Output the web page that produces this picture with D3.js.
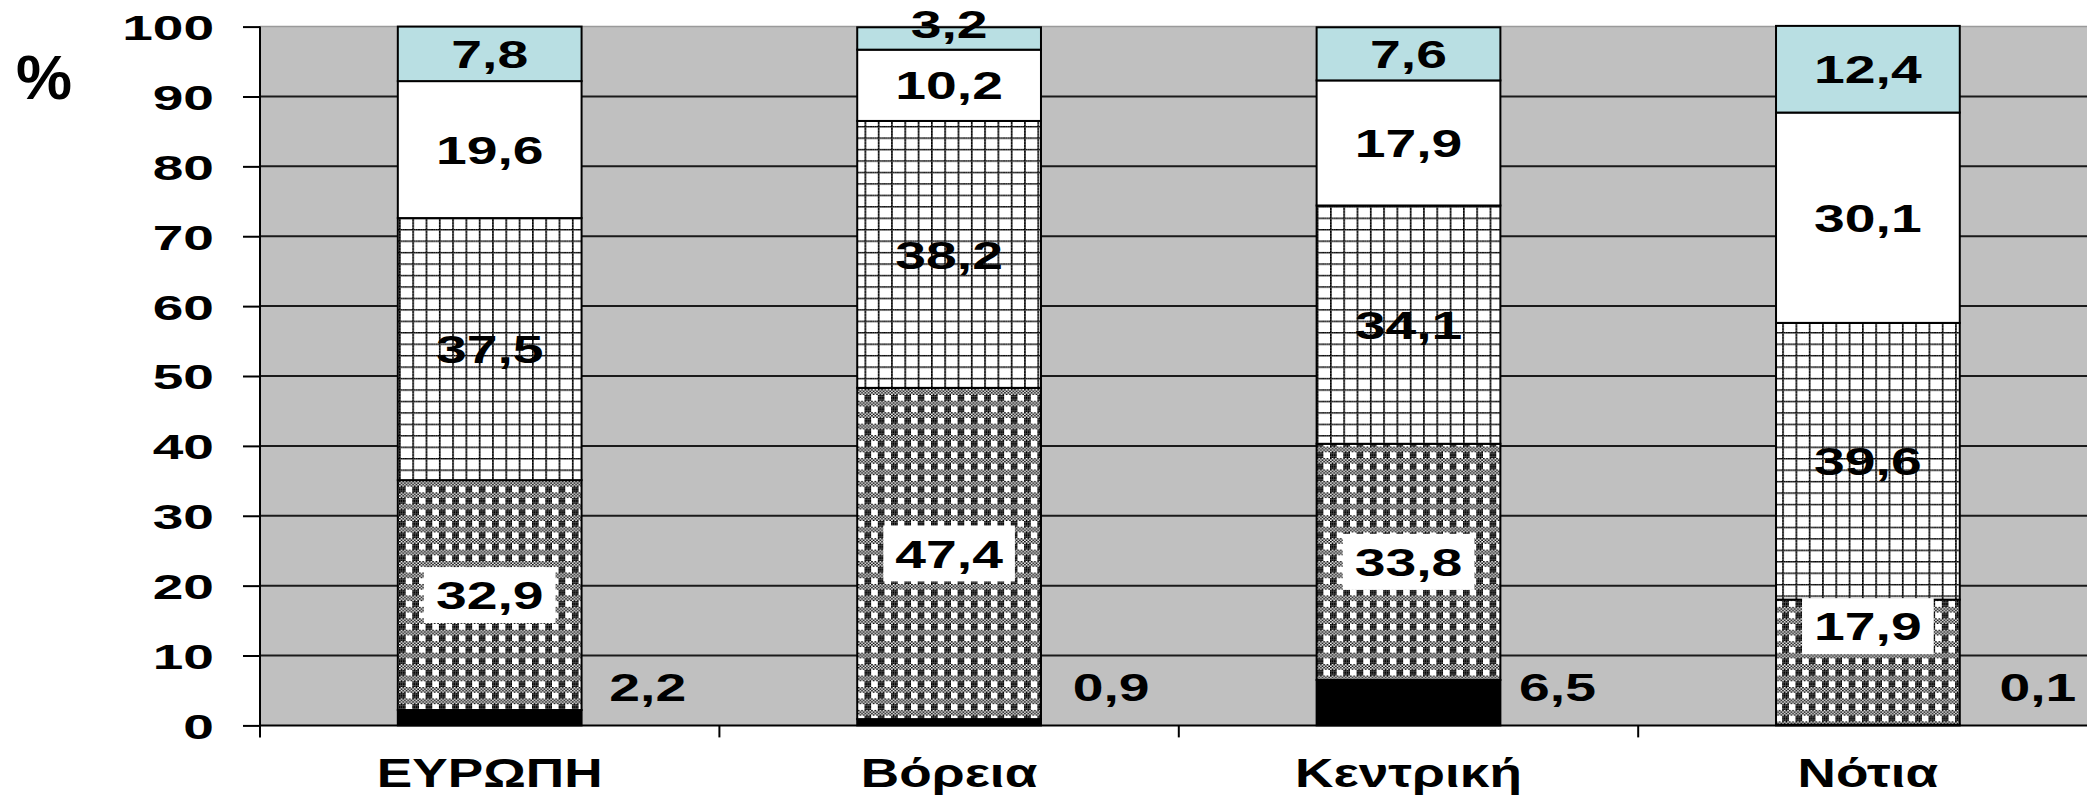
<!DOCTYPE html>
<html>
<head>
<meta charset="utf-8">
<script src="https://cdn.jsdelivr.net/npm/d3@7"></script>
<style>
  html, body { margin: 0; padding: 0; background: #ffffff; }
  svg { display: block; }
  text { font-family: "Liberation Sans", Arial, sans-serif; font-weight: bold; fill: #000; }
</style>
</head>
<body>
<svg id="chart" width="2087" height="799"></svg>
<script>
// Regions and stacked shares (%), bottom segment first
const categories = ["ΕΥΡΩΠΗ", "Βόρεια", "Κεντρική", "Νότια"];
const series1 = [2.2, 0.9, 6.5, 0.1];
const series2 = [32.9, 47.4, 33.8, 17.9];
const series3 = [37.5, 38.2, 34.1, 39.6];
const series4 = [19.6, 10.2, 17.9, 30.1];
const series5 = [7.8, 3.2, 7.6, 12.4];
const yTickValues = [0, 10, 20, 30, 40, 50, 60, 70, 80, 90, 100];

const seriesKeys = ["s1", "s2", "s3", "s4", "s5"];
const seriesValues = [series1, series2, series3, series4, series5];

// ---- layout ----
const width = 2087, height = 799;
const plotLeft = 260, plotRight = 2097.6, plotTop = 26.6, plotBottom = 725.4;
const fontFamily = '"Liberation Sans", Arial, sans-serif';

const svg = d3.select("#chart");

const x = d3.scaleBand()
  .domain(categories)
  .range([plotLeft, plotRight])
  .paddingInner(0.6)
  .paddingOuter(0.3);

const y = d3.scaleLinear().domain([0, 100]).range([plotBottom, plotTop]);

// ---- fill patterns (8x8 bitmaps, stretched to the chart's cell size) ----
const cellW = 13.3 / 8, cellH = 11.45 / 8;
const plaidBitmap = [
  "X.X.X.X.",
  ".X.X.X.X",
  "X.X.X.X.",
  ".X.X.X.X",
  "XXXX....",
  "XXXX....",
  "XXXX....",
  "XXXX...."
];
const gridBitmap = [
  "XXXXXXXX",
  "X.......",
  "X.......",
  "X.......",
  "X.......",
  "X.......",
  "X.......",
  "X......."
];
const defs = svg.append("defs");
function bitmapPattern(id, bitmap) {
  const p = defs.append("pattern")
    .attr("id", id)
    .attr("patternUnits", "userSpaceOnUse")
    .attr("width", cellW * 8)
    .attr("height", cellH * 8);
  p.append("rect").attr("width", cellW * 8).attr("height", cellH * 8).attr("fill", "#ffffff");
  bitmap.forEach((row, r) => {
    row.split("").forEach((c, k) => {
      if (c === "X") {
        p.append("rect")
          .attr("x", k * cellW).attr("y", r * cellH)
          .attr("width", cellW).attr("height", cellH)
          .attr("fill", "#000000");
      }
    });
  });
}
bitmapPattern("plaid", plaidBitmap);
bitmapPattern("grid", gridBitmap);

const seriesFill = {
  s1: "#000000",
  s2: "url(#plaid)",
  s3: "url(#grid)",
  s4: "#ffffff",
  s5: "#b9dfe3"
};

// ---- plot area ----
svg.append("rect")
  .attr("x", plotLeft).attr("y", plotTop)
  .attr("width", plotRight - plotLeft).attr("height", plotBottom - plotTop)
  .attr("fill", "#c0c0c0");

// horizontal gridlines
svg.append("g")
  .selectAll("line")
  .data(yTickValues.filter(v => v > 0))
  .join("line")
  .attr("x1", plotLeft).attr("x2", plotRight)
  .attr("y1", d => y(d)).attr("y2", d => y(d))
  .attr("stroke", d => d === 100 ? "#9a9a9a" : "#1a1a1a")
  .attr("stroke-width", d => d === 100 ? 1.5 : 2);

// ---- stacked bars ----
const rows = categories.map((c, i) => {
  const r = { category: c };
  seriesKeys.forEach((k, j) => { r[k] = seriesValues[j][i]; });
  return r;
});
const stacked = d3.stack().keys(seriesKeys)(rows);

const barLayer = svg.append("g");
stacked.forEach(layer => {
  barLayer.append("g")
    .selectAll("rect")
    .data(layer)
    .join("rect")
    .attr("x", d => x(d.data.category))
    .attr("width", x.bandwidth())
    .attr("y", d => y(d[1]))
    .attr("height", d => y(d[0]) - y(d[1]))
    .attr("fill", seriesFill[layer.key])
    .attr("stroke", "#000")
    .attr("stroke-width", 2);
});

// ---- axes ----
const yAxis = svg.append("g")
  .attr("transform", `translate(${plotLeft},0)`)
  .call(d3.axisLeft(y).tickValues(yTickValues).tickSize(17).tickSizeOuter(0)
        .tickFormat(d3.format("d")));
yAxis.select(".domain").remove();
yAxis.selectAll(".tick line").attr("stroke", "#000").attr("stroke-width", 2);
yAxis.selectAll(".tick text")
  .attr("x", null).attr("dy", "0.358em")
  .attr("text-anchor", "end")
  .attr("transform", "translate(-46,0) scale(1.53,1)")
  .style("font-family", fontFamily).style("font-weight", "bold").style("font-size", "36px");

// vertical axis line, running a little below the baseline
svg.append("line")
  .attr("x1", plotLeft).attr("x2", plotLeft)
  .attr("y1", plotTop).attr("y2", plotBottom + 12)
  .attr("stroke", "#000").attr("stroke-width", 2);

// category axis
svg.append("line")
  .attr("x1", plotLeft).attr("x2", plotRight)
  .attr("y1", plotBottom).attr("y2", plotBottom)
  .attr("stroke", "#000").attr("stroke-width", 2);

const boundaries = categories.map(c => x(c) + x.bandwidth() + (x.step() - x.bandwidth()) / 2);
svg.append("g")
  .selectAll("line")
  .data(boundaries)
  .join("line")
  .attr("x1", d => d).attr("x2", d => d)
  .attr("y1", plotBottom).attr("y2", plotBottom + 12)
  .attr("stroke", "#000").attr("stroke-width", 2);

const xAxis = svg.append("g")
  .attr("transform", `translate(0,${plotBottom})`)
  .call(d3.axisBottom(x).tickSize(0));
xAxis.select(".domain").remove();
xAxis.selectAll(".tick text")
  .attr("y", 0).attr("dy", 0)
  .attr("text-anchor", "middle")
  .attr("transform", "translate(0,61.6) scale(1.33,1)")
  .style("font-family", fontFamily).style("font-weight", "bold").style("font-size", "40px");

// unit label
svg.append("text")
  .attr("x", 16).attr("y", 99)
  .style("font-size", "63px")
  .text("%");

// ---- value labels ----
const fmt = v => v.toFixed(1).replace(".", ",");
const labelSize = 39.5, labelStretch = 1.4;
// horizontal offset of the bottom-segment labels from the bar centre
const outsideLabelShift = [158, 162, 149, 170];
// vertical nudges for labels that sit off their segment centre
const labelNudge = { "s5-1": -15, "s2-3": -36 };

const labelLayer = svg.append("g");
function stretchedLabel(cx, cy, str, withBox) {
  const g = labelLayer.append("g")
    .attr("transform", `translate(${cx},${cy})`);
  const inner = g.append("g").attr("transform", `scale(${labelStretch},1)`);
  const t = inner.append("text")
    .attr("text-anchor", "middle")
    .attr("dy", "0.358em")
    .style("font-size", labelSize + "px")
    .text(str);
  if (withBox) {
    const w = t.node().getComputedTextLength() * labelStretch + 24;
    g.insert("rect", ":first-child")
      .attr("x", -w / 2).attr("y", -28)
      .attr("width", w).attr("height", 56)
      .attr("fill", "#ffffff");
  }
}

stacked.forEach(layer => {
  layer.forEach((d, i) => {
    const key = layer.key;
    const value = d[1] - d[0];
    const label = fmt(seriesValues[seriesKeys.indexOf(key)][i]);
    const cx = x(d.data.category) + x.bandwidth() / 2;
    if (key === "s1") {
      stretchedLabel(cx + outsideLabelShift[i], y(0) - 38.5, label, false);
    } else {
      const nudge = labelNudge[`${key}-${i}`] || 0;
      stretchedLabel(cx, y((d[0] + d[1]) / 2) + nudge, label, key === "s2");
    }
  });
});
</script>
</body>
</html>
